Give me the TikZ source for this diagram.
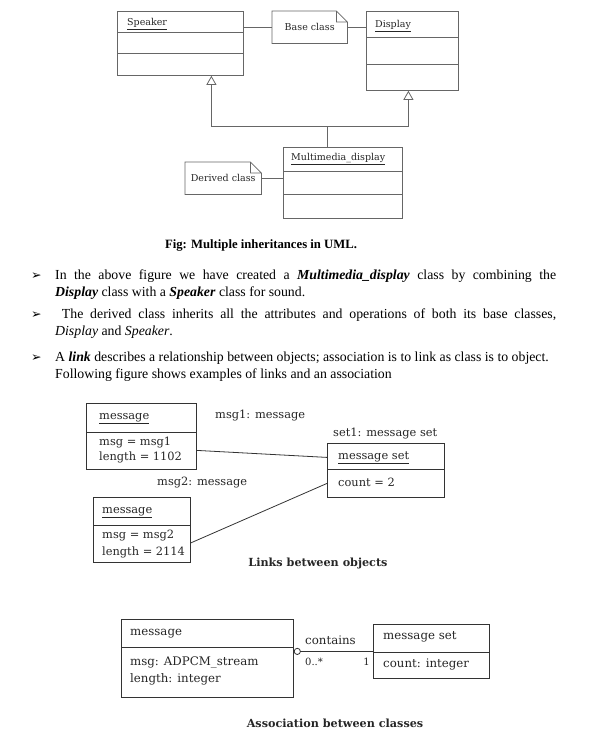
\documentclass[tikz,border=0pt]{standalone}
\usepackage{fontspec}
\setmainfont{Liberation Serif}
\newfontfamily\umlfont{DejaVu Serif}
\newfontfamily\arrowfont{DejaVu Sans}
\usetikzlibrary{arrows.meta, calc}
\colorlet{linegray}{black!60}
\colorlet{linedark}{black!80}
\tikzset{
  umlclass/.style={draw=#1, anchor=north west, inner sep=0pt, line width=0.8pt},
  umlclass/.default=linedark,
  dline/.style={draw=#1, line width=0.8pt},
  dline/.default=linedark,
  umltext/.style={anchor=west, inner sep=0pt, text height=1.5ex, text depth=0.3ex, text=black!85},
  notebox/.style={anchor=north west, inner sep=0pt, text=black!85},
  inherit/.style={draw=linegray, line width=0.8pt, -{Triangle[open, length=9pt, width=10pt]}},
  para/.style={anchor=base west, inner sep=0pt, text width=501pt, align=justify, font=\fontsize{13.8}{17.3}\selectfont},
  bullet/.style={anchor=base west, inner sep=0pt, font=\arrowfont\fontsize{12.5}{14}\selectfont},
  capt/.style={inner sep=0pt, font=\umlfont\bfseries\fontsize{11.2}{13}\selectfont, text=black!85}
}
\newcommand\dogear[2]{\draw[#2] (#1.north west) -- ([xshift=-11pt]#1.north east) -- ([yshift=-11pt]#1.north east) -- (#1.south east) -- (#1.south west) -- cycle ([xshift=-11pt]#1.north east) |- ([yshift=-11pt]#1.north east);}

\begin{document}
\begin{tikzpicture}[x=1pt, y=-1pt]
\useasboundingbox (0,0) rectangle (614,745);

% multiple inheritance
\begin{scope}[font=\umlfont\fontsize{9.5}{11}\selectfont]
\node (spk) at (117,11)[umlclass=linegray, minimum width=126, minimum height=64] {};
\draw[dline=linegray] (spk.west |- 0,32) -- (spk.east |- 0,32);
\draw[dline=linegray] (spk.west |- 0,53) -- (spk.east |- 0,53);
\node (spkname) at (127,23)[umltext] {\underline{Speaker}};

\node (dsp) at (366,11)[umlclass=linegray, minimum width=92, minimum height=79] {};
\draw[dline=linegray] (dsp.west |- 0,37) -- (dsp.east |- 0,37);
\draw[dline=linegray] (dsp.west |- 0,64) -- (dsp.east |- 0,64);
\node (dspname) at (375,25)[umltext] {\underline{Display}};

\node (base) at (272,11)[notebox, minimum width=75, minimum height=32] {Base class};
\dogear{base}{dline=linegray}
\draw[dline=linegray] (spk.east |- base.west) -- (base.west);
\draw[dline=linegray] (base.east) -- (dsp.west |- base.east);

\node (mm) at (283,147)[umlclass=linegray, minimum width=119, minimum height=71] {};
\draw[dline=linegray] (mm.west |- 0,171) -- (mm.east |- 0,171);
\draw[dline=linegray] (mm.west |- 0,194) -- (mm.east |- 0,194);
\node (mmname) at (291,158)[umltext] {\underline{Multimedia\_display}};

\node (der) at (185,162)[notebox, minimum width=76, minimum height=32] {Derived class};
\dogear{der}{dline=linegray}
\draw[dline=linegray] (der.east) -- (mm.west |- der.east);

\coordinate (jn) at (327,126);
\draw[inherit] (jn |- mm.north) -- (jn) -| ([xshift=31pt]spk.south);
\draw[inherit] (jn) -| ([xshift=-4pt]dsp.south);
\end{scope}

\node (fig) at (261,245)[inner sep=0pt, font=\bfseries\fontsize{12.7}{14}\selectfont] {Fig: Multiple inheritances in UML.};

% text
\node (b1) at (31,279)[bullet] {➢};
\node (p1) at (55,279)[para] {In the above figure we have created a \textbf{\textit{Multimedia\_display}} class by combining the\linebreak \textbf{\textit{Display}} class with a \textbf{\textit{Speaker}} class for sound.};
\node (b2) at (31,318)[bullet] {➢};
\node (p2) at (55,318)[para] {\ The derived class inherits all the attributes and operations of both its base classes,\linebreak \textit{Display} and \textit{Speaker}.};
\node (b3) at (31,361)[bullet] {➢};
\node (p3) at (55,361)[para] {A \textbf{\textit{link}} describes a relationship between objects; association is to link as class is to object.\newline Following figure shows examples of links and an association};

% links
\begin{scope}[font=\umlfont\fontsize{11.4}{13}\selectfont]
\node (m1) at (86,403)[umlclass, minimum width=110, minimum height=66] {};
\draw[dline] (m1.west |- 0,432) -- (m1.east |- 0,432);
\node (m1name) at (99,417)[umltext] {\underline{message}};
\node (m1msg) at (99,443)[umltext] {msg = msg1};
\node (m1len) at (99,458)[umltext] {length = 1102};

\node (ms) at (327,443)[umlclass, minimum width=117, minimum height=54] {};
\draw[dline] (ms.west |- 0,469) -- (ms.east |- 0,469);
\node (msname) at (338,457)[umltext] {\underline{message set}};
\node (mscount) at (338,484)[umltext] {count = 2};
\node (set1) at (333,434)[umltext] {set1: message set};

\node (m2) at (93,497)[umlclass, minimum width=97, minimum height=65] {};
\draw[dline] (m2.west |- 0,525) -- (m2.east |- 0,525);
\node (m2name) at (102,511)[umltext] {\underline{message}};
\node (m2msg) at (102,536)[umltext] {msg = msg2};
\node (m2len) at (102,553)[umltext] {length = 2114};

\node (msg1) at (215,416)[umltext] {msg1: message};
\node (msg2) at (157,483)[umltext] {msg2: message};
\draw[dline] ($(m1.east)+(0,14)$) -- ($(ms.west)+(0,-13)$);
\draw[dline] ($(m2.east)+(0,13)$) -- ($(ms.west)+(0,13)$);
\end{scope}
\node (links) at (318,563)[capt] {Links between objects};

% association
\begin{scope}[font=\umlfont\fontsize{11.8}{14}\selectfont]
\node (mc) at (121,619)[umlclass, minimum width=172, minimum height=78] {};
\draw[dline] (mc.west |- 0,647) -- (mc.east |- 0,647);
\node (mcname) at (130,633)[umltext] {message};
\node (mcmsg) at (130,663)[umltext] {msg: ADPCM\_stream};
\node (mclen) at (130,680)[umltext] {length: integer};

\node (sc) at (373,624)[umlclass, minimum width=116, minimum height=54] {};
\draw[dline] (sc.west |- 0,652) -- (sc.east |- 0,652);
\node (scname) at (383,637)[umltext] {message set};
\node (sccount) at (383,665)[umltext] {count: integer};

\draw[dline, -{Circle[open, length=7pt, width=7pt]}] (sc.west) -- (sc.west -| mc.east);
\node (contains) at (305,642)[umltext] {contains};
\node (many) at (305,663)[umltext, font=\umlfont\fontsize{10}{12}\selectfont] {0..*};
\node (one) at (370,663)[umltext, anchor=east, font=\umlfont\fontsize{10}{12}\selectfont] {1};
\end{scope}
\node (assoc) at (335,723)[capt] {Association between classes};
\end{tikzpicture}
\end{document}
